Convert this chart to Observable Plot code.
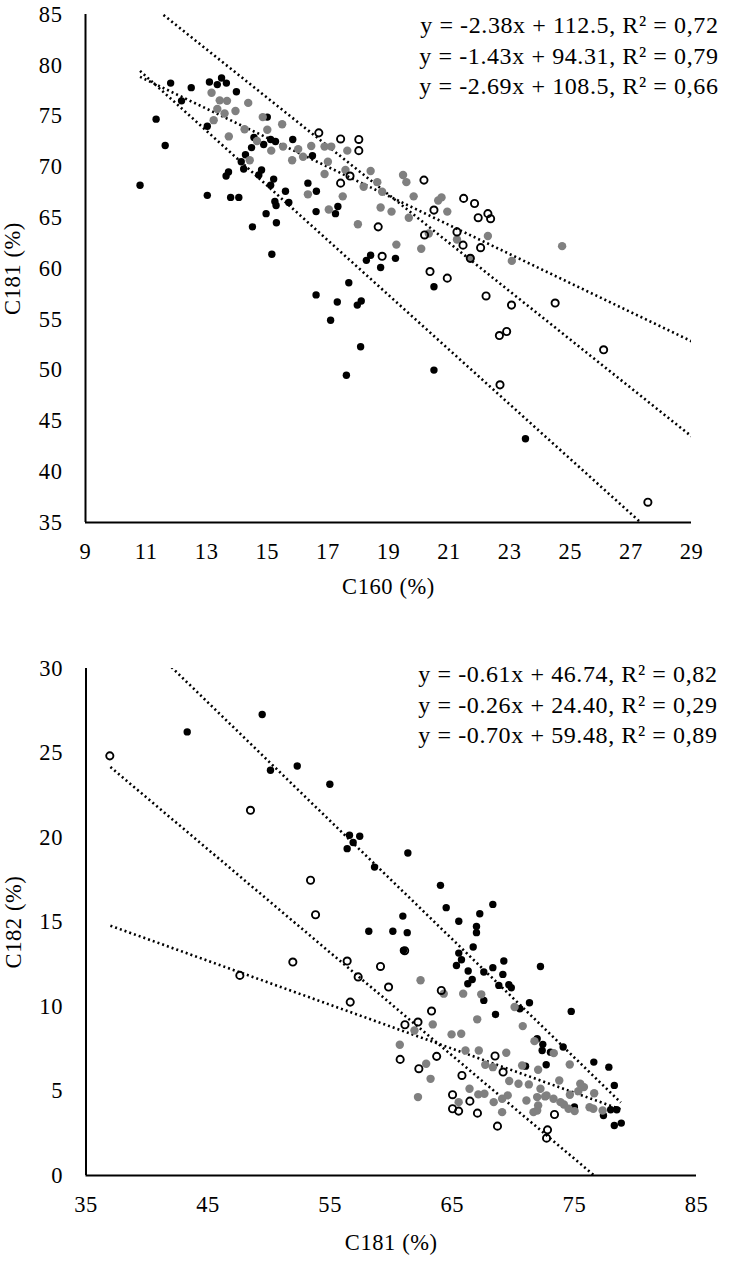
<!DOCTYPE html>
<html>
<head>
<meta charset="utf-8">
<script src="https://cdn.jsdelivr.net/npm/d3@7"></script>
<script src="https://cdn.jsdelivr.net/npm/@observablehq/plot@0.6"></script>
<style>
  html, body { margin: 0; padding: 0; background: #fff; }
  #chart svg { display: block; }
  #chart svg text { letter-spacing: 0.6px; }
</style>
</head>
<body>
<div id="chart"></div>
<script>
// ---------- Panel 1: C160 (x) vs C181 (y) ----------
const xTicksTop = [9, 11, 13, 15, 17, 19, 21, 23, 25, 27, 29];
const yTicksTop = [35, 40, 45, 50, 55, 60, 65, 70, 75, 80, 85];

const blackTop = [
  [11.81,78.25],[12.49,77.8],[13.09,78.35],[13.35,78.1],[13.49,78.75],[13.65,78.25],[13.98,77.4],
  [12.17,76.5],[11.33,74.7],[11.63,72.1],[10.8,68.2],[13.02,74.0],[15.0,74.9],[14.56,72.9],
  [14.88,72.2],[15.11,72.7],[15.27,72.5],[15.84,72.7],[14.48,71.9],[14.28,71.2],[16.49,71.1],
  [14.14,70.5],[14.22,69.8],[13.72,69.5],[13.64,69.1],[14.81,69.7],[14.72,69.2],[15.21,68.8],
  [15.11,68.2],[16.34,68.4],[15.6,67.6],[16.62,67.6],[13.02,67.2],[13.79,67.0],[14.06,67.0],
  [15.25,66.6],[15.29,66.2],[15.71,66.5],[16.61,65.6],[17.33,66.1],[17.25,65.4],[14.96,65.4],
  [15.3,64.5],[14.51,64.1],[15.15,61.4],[18.41,61.3],[18.27,60.8],[19.23,61.0],[18.74,60.1],
  [17.69,58.6],[20.5,58.2],[16.61,57.4],[17.31,56.7],[17.97,56.4],[18.1,56.8],[20.5,50.0],
  [18.08,52.3],[17.61,49.5],[23.52,43.25],[17.09,54.9]
];
const grayTop = [
  [13.16,77.3],[13.43,76.55],[13.67,76.5],[14.37,76.3],[13.35,75.7],[13.59,75.25],[13.95,75.5],
  [13.23,74.6],[14.85,74.9],[15.49,74.2],[14.25,73.7],[15.0,73.65],[13.73,73.0],[14.66,72.55],
  [15.13,71.6],[15.52,72.0],[16.02,71.75],[15.82,70.65],[16.18,71.0],[16.45,72.05],[16.89,72.0],
  [17.11,72.0],[17.64,71.6],[17.0,70.5],[16.89,69.3],[17.58,69.7],[14.42,70.65],[16.34,67.3],
  [17.49,67.1],[17.03,65.8],[17.99,64.35],[18.41,69.6],[18.63,68.5],[18.18,68.05],[18.79,67.55],
  [19.48,69.2],[19.59,68.5],[19.83,67.1],[20.64,66.7],[20.75,67.0],[20.94,65.6],[18.74,66.0],
  [19.1,65.6],[19.67,65.0],[20.33,63.45],[21.26,62.85],[22.28,63.2],[19.26,62.35],[20.08,61.95],
  [23.07,60.75],[24.73,62.2],[21.7,61.0]
];
const openTop = [
  [16.7,73.35],[17.42,72.75],[18.02,72.7],[18.02,71.6],[17.42,68.4],[17.73,69.1],[20.17,68.7],
  [18.66,64.1],[18.79,61.2],[20.5,65.75],[20.19,63.3],[21.26,63.6],[21.48,66.9],[21.84,66.4],
  [22.28,65.4],[22.37,64.9],[21.96,65.0],[21.46,62.3],[22.04,62.05],[21.7,61.0],[20.37,59.7],
  [20.94,59.05],[22.22,57.3],[23.06,56.4],[24.5,56.6],[22.66,53.4],[22.9,53.8],[26.1,52.0],
  [22.68,48.55],[27.56,37.0]
];
// trendlines (slope, intercept as printed), x-extent of the fitted line
const trendTop = [
  {series: "open",  slope: -2.38, intercept: 112.5},
  {series: "gray",  slope: -1.43, intercept: 94.31},
  {series: "black", slope: -2.69, intercept: 108.5}
];
const trendExtentTop = [10.8, 29];
const eqTop = [
  "y = -2.38x + 112.5, R² = 0,72",
  "y = -1.43x + 94.31, R² = 0,79",
  "y = -2.69x + 108.5, R² = 0,66"
];

// ---------- Panel 2: C181 (x) vs C182 (y) ----------
const xTicksBot = [35, 45, 55, 65, 75, 85];
const yTicksBot = [0, 5, 10, 15, 20, 25, 30];

const blackBot = [
  [49.43,27.28],[43.29,26.25],[50.11,23.98],[52.3,24.23],[54.97,23.15],[56.58,20.13],[57.42,20.07],
  [56.88,19.7],[56.39,19.34],[58.63,18.25],[61.36,19.08],[60.95,15.35],[58.16,14.45],[60.13,14.45],
  [61.31,14.37],[61.0,13.32],[64.03,17.17],[64.5,15.85],[68.32,16.04],[67.25,15.49],[65.53,15.04],
  [66.98,14.74],[66.98,14.37],[66.71,13.52],[65.53,13.16],[65.75,12.77],[65.34,12.43],[69.22,12.69],
  [66.3,12.1],[67.58,12.04],[68.32,12.3],[69.14,11.9],[72.22,12.37],[66.63,11.6],[66.27,11.35],
  [68.81,11.25],[69.63,11.29],[69.83,11.11],[67.58,10.36],[71.32,10.22],[70.53,9.87],[68.54,9.53],
  [74.74,9.71],[71.95,8.09],[72.41,7.76],[72.36,7.4],[73.04,7.3],[74.08,7.6],[76.59,6.71],
  [77.82,6.41],[71.0,6.47],[72.69,6.55],[78.27,5.33],[77.97,3.89],[78.47,3.89],[77.38,3.55],
  [78.27,2.96],[78.84,3.1],[75.0,4.05]
];
const grayBot = [
  [62.4,11.55],[64.3,10.76],[65.89,10.76],[67.37,10.72],[70.1,9.97],[67.04,9.24],[70.77,8.84],
  [63.4,8.94],[61.9,8.58],[64.94,8.35],[65.73,8.39],[60.7,7.74],[66.08,7.4],[67.17,7.4],
  [69.42,7.26],[71.73,7.95],[62.86,6.61],[67.7,6.55],[70.72,6.51],[74.62,6.57],[73.31,7.24],
  [68.32,6.41],[72.03,6.26],[63.22,5.72],[69.66,5.59],[70.42,5.43],[66.41,5.13],[71.27,5.39],
  [72.22,5.13],[72.72,4.74],[73.76,5.62],[75.48,5.43],[75.78,5.23],[75.32,4.99],[76.62,4.87],
  [62.19,4.64],[67.13,4.8],[67.63,4.84],[69.54,4.74],[69.08,4.54],[71.07,4.44],[71.95,4.64],
  [72.03,4.14],[71.95,3.85],[72.6,4.68],[71.65,3.75],[65.52,4.34],[68.39,4.34],[69.08,3.75],
  [73.86,4.34],[74.14,4.2],[74.52,3.95],[75.02,3.81],[76.24,4.04],[76.55,3.95],[77.31,3.85],
  [74.63,4.78],[73.29,4.54]
];
const openBot = [
  [36.95,24.83],[48.47,21.61],[53.39,17.47],[53.8,15.43],[51.94,12.63],[56.39,12.69],[59.12,12.37],
  [61.1,13.3],[47.6,11.84],[57.29,11.75],[59.78,11.15],[56.64,10.26],[63.3,9.73],[62.19,9.08],
  [61.12,8.92],[60.73,6.87],[62.26,6.32],[63.72,7.05],[65.79,5.92],[65.02,4.78],[65.02,3.95],
  [65.52,3.81],[66.44,4.4],[67.06,3.69],[68.5,7.07],[69.16,6.12],[68.7,2.92],[72.8,2.7],
  [72.72,2.21],[73.37,3.61],[64.1,10.95]
];
const trendBot = [
  {series: "open",  slope: -0.61, intercept: 46.74},
  {series: "gray",  slope: -0.26, intercept: 24.40},
  {series: "black", slope: -0.70, intercept: 59.48}
];
const trendExtentBot = [37, 78.8];
const eqBot = [
  "y = -0.61x + 46.74, R² = 0,82",
  "y = -0.26x + 24.40, R² = 0,29",
  "y = -0.70x + 59.48, R² = 0,89"
];

// ---------- shared styling ----------
const FONT = "'Liberation Serif', 'Times New Roman', serif";
const GRAY = "#808080";

function toRows(arr) { return arr.map(([x, y]) => ({x, y})); }
function trendRows(trends, extent) {
  return trends.flatMap(t => extent.map(x => ({series: t.series, x, y: t.intercept + t.slope * x})));
}

function panel({width, height, margins, xDomain, yDomain, xTicks, yTicks, xLabel, yLabel,
                black, gray, open, trends, extent, eqs, eqDx, eqDy, xLabelOffset, yLabelOffset}) {
  return Plot.plot({
    width, height,
    ...margins,
    style: {fontFamily: FONT, fontSize: "22px", color: "#000", background: "#fff", overflow: "visible"},
    x: {domain: xDomain},
    y: {domain: yDomain},
    marks: [
      Plot.axisX({ticks: xTicks, tickSize: 0, tickPadding: 21, fontSize: 22.5,
                  label: xLabel, labelAnchor: "center", labelArrow: "none", labelOffset: xLabelOffset}),
      Plot.axisY({ticks: yTicks, tickSize: 0, tickPadding: 23, fontSize: 22.5,
                  label: yLabel, labelAnchor: "center", labelArrow: "none", labelOffset: yLabelOffset}),
      Plot.line(trendRows(trends, extent), {
        x: "x", y: "y", z: "series", stroke: "#000", strokeWidth: 2.6,
        strokeDasharray: "2,3", strokeLinecap: "butt", clip: true
      }),
      Plot.dot(toRows(black), {x: "x", y: "y", r: 3.7, fill: "#000"}),
      Plot.dot(toRows(gray), {x: "x", y: "y", r: 4.2, fill: GRAY}),
      Plot.dot(toRows(open), {x: "x", y: "y", r: 3.6, fill: "none", stroke: "#000", strokeWidth: 1.9}),
      Plot.ruleX([xDomain[0]], {stroke: "#000", strokeWidth: 2}),
      Plot.ruleY([yDomain[0]], {stroke: "#000", strokeWidth: 2}),
      Plot.text([eqs.join("\n")], {
        frameAnchor: "top-right", textAnchor: "end", lineAnchor: "top",
        lineHeight: 1.27, fontSize: 24, dx: eqDx, dy: eqDy, fill: "#000"
      })
    ]
  });
}

const topPanel = panel({
  width: 733, height: 600,
  margins: {marginLeft: 85, marginRight: 42, marginTop: 14, marginBottom: 78},
  xDomain: [9, 29], yDomain: [35, 85], xTicks: xTicksTop, yTicks: yTicksTop,
  xLabel: "C160 (%)", yLabel: "C181 (%)",
  black: blackTop, gray: grayTop, open: openTop,
  trends: trendTop, extent: trendExtentTop, eqs: eqTop, eqDx: 27, eqDy: -3,
  xLabelOffset: 71, yLabelOffset: 81
});
const bottomPanel = panel({
  width: 733, height: 661,
  margins: {marginLeft: 85.5, marginRight: 37, marginTop: 68, marginBottom: 86},
  xDomain: [35, 85], yDomain: [0, 30], xTicks: xTicksBot, yTicks: yTicksBot,
  xLabel: "C181 (%)", yLabel: "C182 (%)",
  black: blackBot, gray: grayBot, open: openBot,
  trends: trendBot, extent: trendExtentBot, eqs: eqBot, eqDx: 21, eqDy: -8,
  xLabelOffset: 74, yLabelOffset: 81
});
document.getElementById("chart").append(topPanel, bottomPanel);
</script>
</body>
</html>
